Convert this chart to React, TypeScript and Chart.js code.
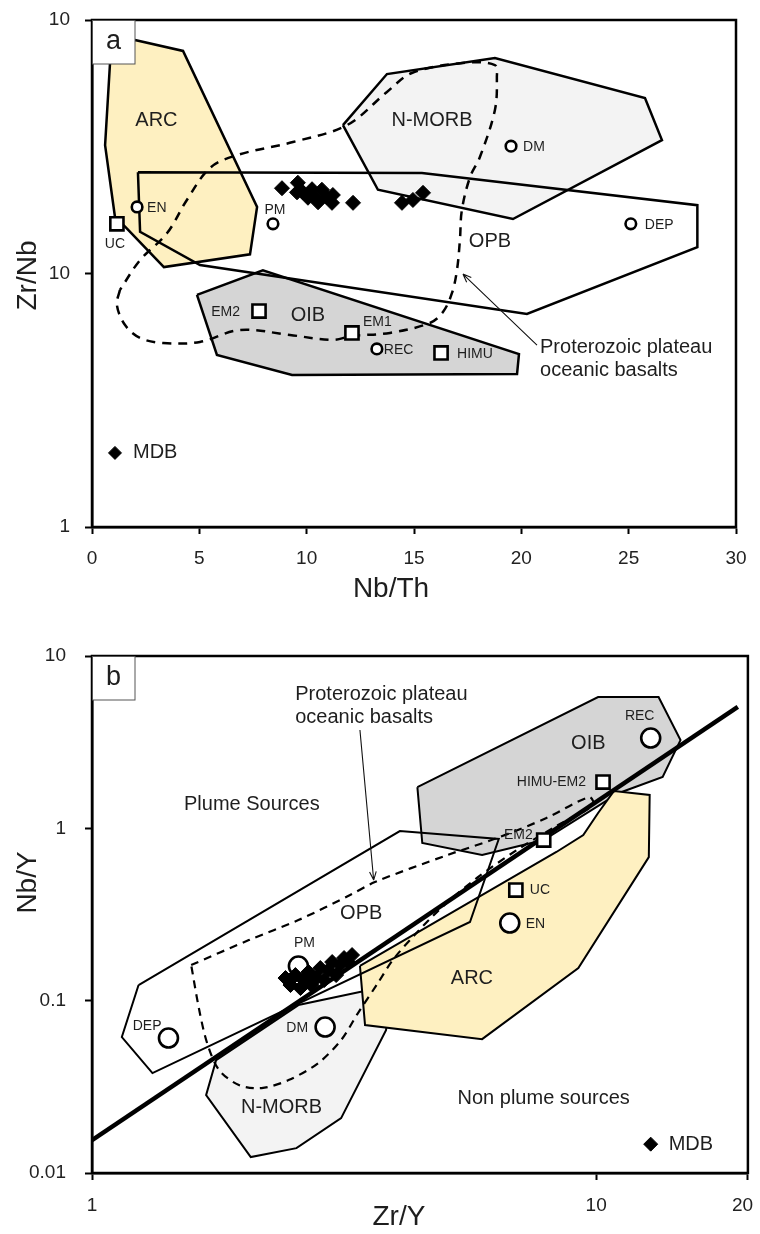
import { useEffect, useRef } from "react";
import { Chart, registerables } from "chart.js";
Chart.register(...registerables);

type P = { x: number; y: number };
type Off = { dx: number; dy: number; al: CanvasTextAlign };

const FONT = "'Liberation Sans', Arial, Helvetica, sans-serif";
Chart.defaults.font.family = FONT;

// ======================= Panel a : Zr/Nb vs Nb/Th =======================
const A_X_TICKS = [0, 5, 10, 15, 20, 25, 30];
const A_Y_TICKS = [1, 10, 100];
const A_Y_TICK_LABELS = ["1", "10", "10"];

const A_ARC: P[] = [
  { x: 2.0, y: 83.4 }, { x: 4.24, y: 75.5 }, { x: 7.69, y: 18.3 }, { x: 7.36, y: 11.9 },
  { x: 3.35, y: 10.6 }, { x: 1.54, y: 15.3 }, { x: 1.07, y: 16.7 }, { x: 0.61, y: 32.1 },
  { x: 0.84, y: 67.7 },
];
const A_OPB: P[] = [
  { x: 2.14, y: 25.1 }, { x: 15.37, y: 24.9 }, { x: 28.2, y: 18.6 }, { x: 28.2, y: 12.7 },
  { x: 20.26, y: 6.92 }, { x: 5.03, y: 10.8 }, { x: 2.24, y: 14.6 },
];
const A_NMORB: P[] = [
  { x: 11.69, y: 38.5 }, { x: 13.74, y: 61.2 }, { x: 18.77, y: 70.8 }, { x: 25.76, y: 49.2 },
  { x: 26.55, y: 33.6 }, { x: 19.61, y: 16.4 }, { x: 13.32, y: 21.4 },
];
const A_OIB: P[] = [
  { x: 4.89, y: 8.23 }, { x: 7.96, y: 10.3 }, { x: 19.89, y: 4.81 }, { x: 19.8, y: 4.01 },
  { x: 9.32, y: 3.98 }, { x: 5.82, y: 4.77 },
];
const A_PLATEAU: P[] = [
  { x: 1.3, y: 8.61 }, { x: 1.16, y: 7.51 }, { x: 1.54, y: 6.26 }, { x: 2.24, y: 5.57 },
  { x: 3.31, y: 5.32 }, { x: 5.03, y: 5.37 }, { x: 6.89, y: 5.99 }, { x: 9.22, y: 5.72 },
  { x: 11.22, y: 5.47 }, { x: 12.11, y: 5.67 }, { x: 13.88, y: 5.83 }, { x: 15.74, y: 6.38 },
  { x: 16.35, y: 7.05 }, { x: 16.77, y: 8.38 }, { x: 17.0, y: 10.3 }, { x: 17.14, y: 13.6 },
  { x: 17.23, y: 17.8 }, { x: 17.61, y: 24.0 }, { x: 18.07, y: 28.8 }, { x: 18.77, y: 44.2 },
  { x: 18.86, y: 59.6 }, { x: 18.77, y: 66.4 }, { x: 17.28, y: 67.7 }, { x: 14.9, y: 61.8 },
  { x: 13.74, y: 52.0 }, { x: 11.88, y: 38.5 }, { x: 9.36, y: 33.0 }, { x: 6.75, y: 29.3 },
  { x: 5.5, y: 26.1 }, { x: 4.42, y: 19.5 }, { x: 3.49, y: 14.4 }, { x: 2.24, y: 11.3 },
];
const A_MDB: P[] = [
  { x: 8.85, y: 21.7 }, { x: 9.59, y: 22.8 }, { x: 9.55, y: 20.9 }, { x: 9.83, y: 20.9 },
  { x: 10.06, y: 19.9 }, { x: 10.25, y: 21.5 }, { x: 10.39, y: 20.0 }, { x: 10.53, y: 19.1 },
  { x: 10.71, y: 21.4 }, { x: 10.95, y: 20.0 }, { x: 11.22, y: 20.4 }, { x: 11.18, y: 19.0 },
  { x: 12.16, y: 19.0 }, { x: 14.44, y: 19.0 }, { x: 14.95, y: 19.5 }, { x: 15.42, y: 20.8 },
];
const A_CIRCLE_NAMES = ["EN", "PM", "DM", "DEP", "REC"];
const A_CIRCLES: P[] = [
  { x: 2.1, y: 18.3 }, { x: 8.43, y: 15.7 }, { x: 19.52, y: 31.8 }, { x: 25.1, y: 15.7 }, { x: 13.27, y: 5.04 },
];
const A_SQUARE_NAMES = ["UC", "EM2", "EM1", "HIMU"];
const A_SQUARES: P[] = [
  { x: 1.16, y: 15.7 }, { x: 7.78, y: 7.11 }, { x: 12.11, y: 5.83 }, { x: 16.26, y: 4.86 },
];
const A_KEY: P[] = [{ x: 1.07, y: 1.96 }];

// ======================= Panel b : Nb/Y vs Zr/Y =======================
const B_X_TICKS = [1, 10, 20];
const B_X_TICK_LABELS = ["1", "10", "20  "];
const B_Y_TICKS = [0.01, 0.1, 1, 10];
const B_Y_TICK_LABELS = ["0.01", "0.1", "1", "10"];

const B_ARC: P[] = [
  { x: 3.4, y: 0.159 }, { x: 8.34, y: 0.729 }, { x: 9.43, y: 0.914 }, { x: 10.09, y: 1.227 },
  { x: 10.85, y: 1.646 }, { x: 12.77, y: 1.561 }, { x: 12.72, y: 0.681 }, { x: 9.22, y: 0.1546 },
  { x: 5.94, y: 0.0598 }, { x: 3.48, y: 0.0722 },
];
const B_OIB: P[] = [
  { x: 4.42, y: 1.736 }, { x: 10.09, y: 5.78 }, { x: 13.3, y: 5.78 }, { x: 14.7, y: 3.25 },
  { x: 13.55, y: 1.985 }, { x: 11.1, y: 1.603 }, { x: 7.87, y: 0.855 }, { x: 5.94, y: 0.7 },
  { x: 4.52, y: 0.822 },
];
const B_OPB: P[] = [
  { x: 1.237, y: 0.1232 }, { x: 4.08, y: 0.964 }, { x: 6.41, y: 0.867 }, { x: 5.62, y: 0.286 },
  { x: 1.318, y: 0.038 }, { x: 1.146, y: 0.0615 },
];
const B_NMORB: P[] = [
  { x: 1.763, y: 0.0452 }, { x: 2.567, y: 0.0943 }, { x: 3.95, y: 0.1232 }, { x: 3.83, y: 0.0675 },
  { x: 3.12, y: 0.0208 }, { x: 2.544, y: 0.01394 }, { x: 2.065, y: 0.01237 }, { x: 1.684, y: 0.0283 },
];
const B_PLATEAU: P[] = [
  { x: 1.573, y: 0.161 }, { x: 2.047, y: 0.2247 }, { x: 2.567, y: 0.2935 }, { x: 3.25, y: 0.41 },
  { x: 3.64, y: 0.488 }, { x: 5.07, y: 0.7 }, { x: 6.36, y: 0.878 }, { x: 7.97, y: 1.148 },
  { x: 9.69, y: 1.519 }, { x: 9.87, y: 1.365 }, { x: 8.34, y: 1.031 }, { x: 6.96, y: 0.748 },
  { x: 5.8, y: 0.515 }, { x: 5.0, y: 0.359 }, { x: 4.36, y: 0.24 }, { x: 3.95, y: 0.172 },
  { x: 3.69, y: 0.1265 }, { x: 3.37, y: 0.0847 }, { x: 3.12, y: 0.0591 }, { x: 2.81, y: 0.0434 },
  { x: 2.454, y: 0.0346 }, { x: 2.171, y: 0.0311 }, { x: 1.956, y: 0.0324 }, { x: 1.786, y: 0.0396 },
  { x: 1.692, y: 0.0567 }, { x: 1.632, y: 0.0882 },
];
const B_DIVIDE: P[] = [{ x: 1, y: 0.0155 }, { x: 19.1, y: 5.06 }];
const B_MDB: P[] = [
  { x: 2.42, y: 0.1353 }, { x: 2.476, y: 0.1232 }, { x: 2.532, y: 0.1408 }, { x: 2.591, y: 0.1183 },
  { x: 2.627, y: 0.1317 }, { x: 2.687, y: 0.1466 }, { x: 2.723, y: 0.1232 }, { x: 2.786, y: 0.1353 },
  { x: 2.837, y: 0.1546 }, { x: 2.888, y: 0.1317 }, { x: 2.941, y: 0.1505 }, { x: 2.995, y: 0.1675 },
  { x: 3.05, y: 0.1408 }, { x: 3.105, y: 0.161 }, { x: 3.162, y: 0.1767 }, { x: 3.22, y: 0.1675 },
  { x: 3.28, y: 0.1839 },
];
const B_CIRCLE_NAMES = ["REC", "PM", "DM", "DEP", "EN"];
const B_CIRCLES: P[] = [
  { x: 12.83, y: 3.34 }, { x: 2.567, y: 0.1588 }, { x: 2.9, y: 0.0703 }, { x: 1.418, y: 0.0607 }, { x: 6.74, y: 0.282 },
];
const B_SQUARE_NAMES = ["UC", "EM2", "HIMU-EM2"];
const B_SQUARES: P[] = [{ x: 6.93, y: 0.4385 }, { x: 7.87, y: 0.855 }, { x: 10.32, y: 1.857 }];
const B_KEY: P[] = [{ x: 12.83, y: 0.0147 }];

// ---------- annotation texts (anchored in data units) ----------
type Txt = { text: string; x: number; y: number };
const A_REGION_TEXT: Txt[] = [
  { text: "ARC", x: 3.0, y: 40 },
  { text: "N-MORB", x: 15.84, y: 40.3 },
  { text: "OPB", x: 18.54, y: 13.4 },
  { text: "OIB", x: 10.06, y: 6.8 },
];
const B_REGION_TEXT: Txt[] = [
  { text: "Plume Sources", x: 2.075, y: 1.384 },
  { text: "OPB", x: 3.42, y: 0.3224 },
  { text: "OIB", x: 9.65, y: 3.126 },
  { text: "ARC", x: 5.67, y: 0.1353 },
  { text: "N-MORB", x: 2.377, y: 0.0241 },
  { text: "Non plume sources", x: 7.87, y: 0.0272 },
];
const NOTE_LINES = ["Proterozoic plateau", "oceanic basalts"];
const A_NOTE_AT: P = { x: 20.87, y: 5.13 };
const B_NOTE_AT: P = { x: 2.53, y: 5.94 };
const A_ARROW: P[] = [{ x: 20.73, y: 5.22 }, { x: 17.28, y: 9.95 }];
const B_ARROW: P[] = [{ x: 3.4, y: 3.72 }, { x: 3.62, y: 0.501 }];

// ---------- styling (label offsets in px) ----------
const A_CIRCLE_OFF: Off[] = [
  { dx: 10, dy: 1, al: "left" }, { dx: 2, dy: -14, al: "center" }, { dx: 12, dy: 1, al: "left" },
  { dx: 14, dy: 1, al: "left" }, { dx: 7, dy: 1, al: "left" },
];
const A_SQUARE_OFF: Off[] = [
  { dx: -2, dy: 20, al: "center" }, { dx: -19, dy: 1, al: "right" }, { dx: 11, dy: -11, al: "left" },
  { dx: 16, dy: 1, al: "left" },
];
const B_CIRCLE_OFF: Off[] = [
  { dx: -11, dy: -22, al: "center" }, { dx: 6, dy: -23, al: "center" }, { dx: -17, dy: 1, al: "right" },
  { dx: -7, dy: -12, al: "right" }, { dx: 16, dy: 1, al: "left" },
];
const B_SQUARE_OFF: Off[] = [
  { dx: 14, dy: 0, al: "left" }, { dx: -11, dy: -5, al: "right" }, { dx: -17, dy: 0, al: "right" },
];

const YELLOW = "#fef0c1";
const GREY = "#d5d5d5";
const LIGHT = "#f3f3f3";
const INK = "#1e1e1e";

const closed = (pts: P[]) => [...pts, pts[0]];

function polygon(data: P[], fill: string | null, bw: number, dash?: number[], tension = 0) {
  return {
    data: closed(data),
    showLine: true,
    fill: fill ? "shape" : false,
    backgroundColor: fill || "rgba(0,0,0,0)",
    borderColor: "#000",
    borderWidth: bw,
    borderDash: dash || [],
    tension,
    pointRadius: 0,
    pointHoverRadius: 0,
  };
}
function markers(data: P[], style: string, r: number, bg: string, bw: number) {
  return {
    data,
    showLine: false,
    pointStyle: style,
    pointRadius: r,
    pointHoverRadius: r,
    pointBackgroundColor: bg,
    pointBorderColor: "#000",
    pointBorderWidth: bw,
  };
}

type Mark = { pts: P[]; names: string[]; offs: Off[]; size: number };
type Decor = {
  letter: string;
  regions: Txt[];
  regionSize: number;
  noteAt: P;
  arrow: P[];
  marks: Mark[];
  xTitle: string;
  yTitle: string;
  xTitleDx: number;
  xTitleDy: number;
  yTitleX: number;
  yTitleDy: number;
};

function decorPlugin(d: Decor) {
  return {
    id: "decor" + d.letter,
    afterDatasetsDraw(chart: any) {
      const { ctx, chartArea: ca, scales } = chart;
      const X = (v: number) => scales.x.getPixelForValue(v);
      const Y = (v: number) => scales.y.getPixelForValue(v);
      ctx.save();
      // frame
      ctx.strokeStyle = "#000";
      ctx.lineWidth = 2.5;
      ctx.strokeRect(ca.left, ca.top, ca.right - ca.left, ca.bottom - ca.top);
      // arrow
      const x0 = X(d.arrow[0].x), y0 = Y(d.arrow[0].y), x1 = X(d.arrow[1].x), y1 = Y(d.arrow[1].y);
      ctx.lineWidth = 1.1;
      ctx.strokeStyle = "#111";
      ctx.beginPath();
      ctx.moveTo(x0, y0);
      ctx.lineTo(x1, y1);
      const ang = Math.atan2(y1 - y0, x1 - x0);
      for (const s of [-1, 1]) {
        ctx.moveTo(x1, y1);
        ctx.lineTo(x1 - 9 * Math.cos(ang + s * 0.38), y1 - 9 * Math.sin(ang + s * 0.38));
      }
      ctx.stroke();
      ctx.fillStyle = INK;
      ctx.textBaseline = "middle";
      // region texts
      ctx.font = `${d.regionSize}px ${FONT}`;
      ctx.textAlign = "center";
      for (const t of d.regions) ctx.fillText(t.text, X(t.x), Y(t.y));
      // note
      ctx.textAlign = "left";
      NOTE_LINES.forEach((l, i) => ctx.fillText(l, X(d.noteAt.x), Y(d.noteAt.y) + i * 23));
      // point labels
      for (const m of d.marks) {
        ctx.font = `${m.size}px ${FONT}`;
        m.pts.forEach((p, i) => {
          const o = m.offs[i];
          ctx.textAlign = o.al;
          ctx.fillText(m.names[i], X(p.x) + o.dx, Y(p.y) + o.dy);
        });
      }
      // panel letter box
      ctx.fillStyle = "#fff";
      ctx.fillRect(ca.left + 1, ca.top + 1, 42, 43);
      ctx.strokeStyle = "#555";
      ctx.lineWidth = 1;
      ctx.strokeRect(ca.left + 0.5, ca.top + 0.5, 42.5, 43.5);
      ctx.fillStyle = INK;
      ctx.font = `27px ${FONT}`;
      ctx.textAlign = "center";
      ctx.fillText(d.letter, ca.left + 21.5, ca.top + 22);
      // axis titles
      ctx.font = `28px ${FONT}`;
      ctx.fillText(d.xTitle, (ca.left + ca.right) / 2 + d.xTitleDx, ca.bottom + d.xTitleDy);
      ctx.save();
      ctx.translate(d.yTitleX, (ca.top + ca.bottom) / 2 + d.yTitleDy);
      ctx.rotate(-Math.PI / 2);
      ctx.fillText(d.yTitle, 0, 0);
      ctx.restore();
      ctx.restore();
    },
  };
}

function axis(kind: "x" | "y", type: string, min: number, max: number, ticks: number[], labels: string[], size: number, pad: number) {
  return {
    type,
    min,
    max,
    afterBuildTicks: (s: any) => {
      s.ticks = ticks.map((v) => ({ value: v }));
    },
    afterFit: (s: any) => {
      if (kind === "x") s.height = size;
      else s.width = size;
      s.paddingLeft = 0;
      s.paddingRight = 0;
      s.paddingTop = 0;
      s.paddingBottom = 0;
    },
    grid: { display: true, drawOnChartArea: false, drawTicks: true, tickLength: 7, tickWidth: 2, tickColor: "#000" },
    border: { display: true, color: "#000", width: 2.5 },
    ticks: {
      autoSkip: false,
      maxRotation: 0,
      minRotation: 0,
      padding: pad,
      color: "#222",
      font: { size: 19, family: FONT },
      callback: (_v: any, i: number) => labels[i],
    },
  };
}

function configA(): any {
  return {
    type: "scatter",
    data: {
      datasets: [
        markers(A_KEY, "rectRot", 6.5, "#000", 1),
        markers(A_MDB, "rectRot", 7.5, "#000", 1),
        markers(A_CIRCLES, "circle", 5.3, "#fff", 2.6),
        markers(A_SQUARES, "rect", 9.3, "#fff", 2.6),
        polygon(A_PLATEAU, null, 2.5, [9, 7], 0.35),
        polygon(A_OPB, null, 2.5),
        polygon(A_ARC, YELLOW, 2.5),
        polygon(A_OIB, GREY, 2.5),
        polygon(A_NMORB, LIGHT, 2.5),
      ],
    },
    options: {
      responsive: false,
      animation: false,
      devicePixelRatio: 1,
      events: [],
      layout: { padding: { top: 20, right: 24, left: 0, bottom: 0 } },
      plugins: { legend: { display: false }, tooltip: { enabled: false }, filler: { propagate: false } },
      scales: {
        x: axis("x", "linear", 0, 30, A_X_TICKS, A_X_TICKS.map(String), 73, 13),
        y: axis("y", "logarithmic", 1, 100, A_Y_TICKS, A_Y_TICK_LABELS, 92, 15),
      },
    },
    plugins: [
      decorPlugin({
        letter: "a",
        regions: A_REGION_TEXT,
        regionSize: 20,
        noteAt: A_NOTE_AT,
        arrow: A_ARROW,
        marks: [
          { pts: A_CIRCLES, names: A_CIRCLE_NAMES, offs: A_CIRCLE_OFF, size: 14 },
          { pts: A_SQUARES, names: A_SQUARE_NAMES, offs: A_SQUARE_OFF, size: 14 },
          { pts: A_KEY, names: ["MDB"], offs: [{ dx: 18, dy: 0, al: "left" }], size: 20 },
        ],
        xTitle: "Nb/Th",
        yTitle: "Zr/Nb",
        xTitleDx: -23,
        xTitleDy: 62,
        yTitleX: 28,
        yTitleDy: 2,
      }),
    ],
  };
}

function configB(): any {
  return {
    type: "scatter",
    data: {
      datasets: [
        markers(B_KEY, "rectRot", 7, "#000", 1),
        markers(B_MDB, "rectRot", 7.5, "#000", 1),
        markers(B_CIRCLES, "circle", 9.5, "#fff", 2.6),
        markers(B_SQUARES, "rect", 9.3, "#fff", 2.6),
        {
          data: B_DIVIDE,
          showLine: true,
          fill: false,
          borderColor: "#000",
          borderWidth: 4.5,
          pointRadius: 0,
          pointHoverRadius: 0,
        },
        polygon(B_PLATEAU, null, 2.2, [8, 6], 0.3),
        polygon(B_OPB, null, 2),
        polygon(B_ARC, YELLOW, 2),
        polygon(B_NMORB, LIGHT, 2),
        polygon(B_OIB, GREY, 2),
      ],
    },
    options: {
      responsive: false,
      animation: false,
      devicePixelRatio: 1,
      events: [],
      layout: { padding: { top: 56, right: 7, left: 0, bottom: 0 } },
      plugins: { legend: { display: false }, tooltip: { enabled: false }, filler: { propagate: false } },
      scales: {
        x: axis("x", "logarithmic", 1, 20, B_X_TICKS, B_X_TICK_LABELS, 61, 14),
        y: axis("y", "logarithmic", 0.01, 10, B_Y_TICKS, B_Y_TICK_LABELS, 92, 19),
      },
    },
    plugins: [
      decorPlugin({
        letter: "b",
        regions: B_REGION_TEXT,
        regionSize: 20,
        noteAt: B_NOTE_AT,
        arrow: B_ARROW,
        marks: [
          { pts: B_CIRCLES, names: B_CIRCLE_NAMES, offs: B_CIRCLE_OFF, size: 14 },
          { pts: B_SQUARES, names: B_SQUARE_NAMES, offs: B_SQUARE_OFF, size: 14 },
          { pts: B_KEY, names: ["MDB"], offs: [{ dx: 18, dy: 0, al: "left" }], size: 20 },
        ],
        xTitle: "Zr/Y",
        yTitle: "Nb/Y",
        xTitleDx: -21,
        xTitleDy: 44,
        yTitleX: 28,
        yTitleDy: -32,
      }),
    ],
  };
}

function Panel({ make, width, height }: { make: () => any; width: number; height: number }) {
  const ref = useRef<HTMLCanvasElement>(null);
  useEffect(() => {
    const chart = new Chart(ref.current as HTMLCanvasElement, make());
    return () => chart.destroy();
  }, [make]);
  return <canvas ref={ref} width={width} height={height} style={{ display: "block", width, height }} />;
}

export default function App() {
  return (
    <div style={{ position: "absolute", left: 0, top: 0, width: 760, height: 1234, background: "#fff", overflow: "hidden" }}>
      <Panel make={configA} width={760} height={600} />
      <Panel make={configB} width={760} height={634} />
    </div>
  );
}
